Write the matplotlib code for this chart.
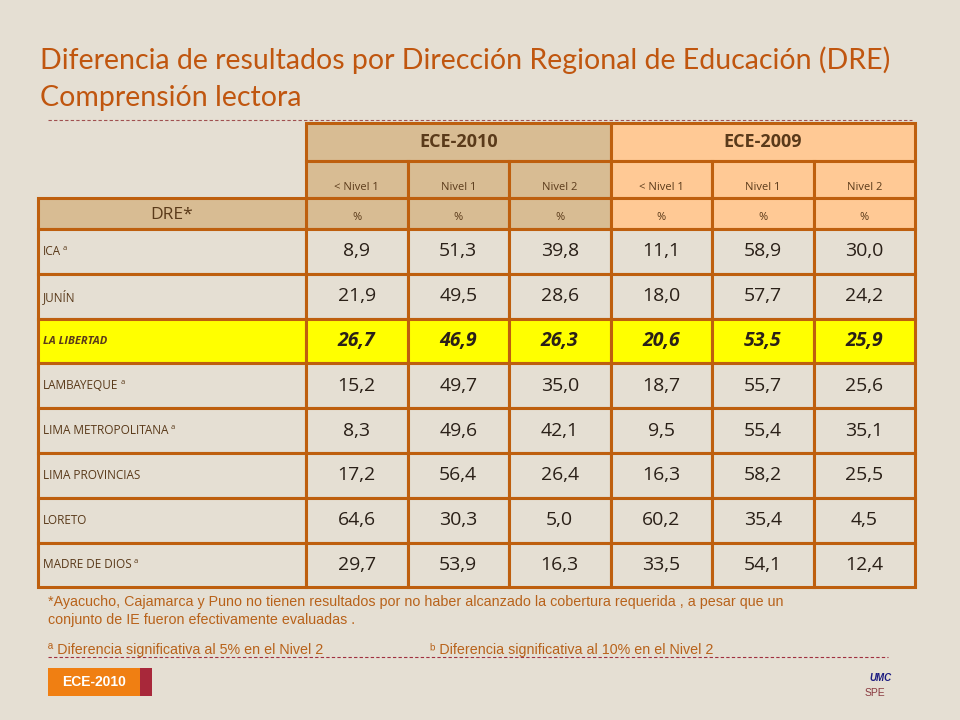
import matplotlib
matplotlib.use("Agg")
import matplotlib.pyplot as plt
from matplotlib.patches import Rectangle

# ── Data ─────────────────────────────────────────────────────────────────────
dre = ["ICA", "JUNÍN", "LA LIBERTAD", "LAMBAYEQUE", "LIMA METROPOLITANA",
       "LIMA PROVINCIAS", "LORETO", "MADRE DE DIOS"]
sup = ["a", "", "", "a", "a", "", "", "a"]
niveles = ["< Nivel 1", "Nivel 1", "Nivel 2"]
ece2010 = [[8.9, 51.3, 39.8], [21.9, 49.5, 28.6], [26.7, 46.9, 26.3],
           [15.2, 49.7, 35.0], [8.3, 49.6, 42.1], [17.2, 56.4, 26.4],
           [64.6, 30.3, 5.0], [29.7, 53.9, 16.3]]
ece2009 = [[11.1, 58.9, 30.0], [18.0, 57.7, 24.2], [20.6, 53.5, 25.9],
           [18.7, 55.7, 25.6], [9.5, 55.4, 35.1], [16.3, 58.2, 25.5],
           [60.2, 35.4, 4.5], [33.5, 54.1, 12.4]]
highlight = "LA LIBERTAD"

BG = "#E5DFD3"
BORDER = "#BE5F0E"
TXT = "#5A3A1A"
H2010 = "#D8BC93"
H2009 = "#FFC995"
FONT = "Open Sans"

fig = plt.figure(figsize=(9.6, 7.2), dpi=100, facecolor=BG)
ax = fig.add_axes([0, 0, 1, 1])
ax.set_xlim(0, 960); ax.set_ylim(720, 0); ax.axis("off")
renderer = fig.canvas.get_renderer()

# title
ax.text(40, 60, "Diferencia de resultados por Dirección Regional de Educación (DRE)",
        fontsize=20.5, color="#C0560F", family="Lato", va="center")
ax.text(40, 98, "Comprensión lectora", fontsize=20.5, color="#C0560F", family="Lato", va="center")
ax.plot([48, 912], [120, 120], ls=(0, (3, 2)), color="#A05050", lw=0.8)

x0, xl = 38, 306
cw = (915 - xl) / 6
row_h = 44.8
y_top = 229

def cell(x, y, w, h, fc):
    ax.add_patch(Rectangle((x, y), w, h, facecolor=fc, edgecolor=BORDER, lw=2.2))

# group headers
for g, (name, fc) in enumerate([("ECE-2010", H2010), ("ECE-2009", H2009)]):
    gx = xl + g * 3 * cw
    cell(gx, 123, 3 * cw, 38, fc)
    ax.text(gx + 1.5 * cw, 142, name, ha="center", va="center", fontsize=13,
            weight="bold", color=TXT, family=FONT)
    for j, lab in enumerate(niveles):
        cx = gx + j * cw
        cell(cx, 161, cw, 37, fc)
        ax.text(cx + cw / 2, 188, lab, ha="center", va="center", fontsize=8, color=TXT, family=FONT)
        cell(cx, 198, cw, 31, fc)
        ax.text(cx + cw / 2, 218, "%", ha="center", va="center", fontsize=8, color=TXT, family=FONT)

cell(x0, 198, xl - x0, 31, H2010)
ax.text((x0 + xl) / 2, 215, "DRE*", ha="center", va="center", fontsize=12.5,
        color=TXT, family=FONT)

for i, name in enumerate(dre):
    y = y_top + i * row_h
    hl = name == highlight
    fc = "#FFFF00" if hl else BG
    style = "italic" if hl else "normal"
    weight = "bold" if hl else "normal"
    cell(x0, y, xl - x0, row_h, fc)
    t = ax.text(x0 + 5, y + row_h / 2, name, ha="left", va="center", fontsize=8.5 if not hl else 8,
                color=TXT, family=FONT, style=style, weight=weight)
    if sup[i]:
        bb = t.get_window_extent(renderer)
        xe = ax.transData.inverted().transform((bb.x1, bb.y1))[0]
        ax.text(xe + 2, y + row_h / 2 - 3, sup[i], fontsize=5.5,
                color=TXT, family=FONT, va="center")
    vals = ece2010[i] + ece2009[i]
    for j, v in enumerate(vals):
        cx = xl + j * cw
        cell(cx, y, cw, row_h, fc)
        ax.text(cx + cw / 2, y + row_h / 2, f"{v:.1f}".replace(".", ","), ha="center",
                va="center", fontsize=14, color="#2A2018", family=FONT,
                style=style, weight=weight)

# footnotes
fn = dict(fontsize=10.3, color="#B8621A", family="Liberation Sans")
ax.text(48, 602, "*Ayacucho, Cajamarca y Puno no tienen resultados por no haber alcanzado la cobertura requerida , a pesar que un",
        va="center", **fn)
ax.text(48, 620, "conjunto de IE fueron efectivamente evaluadas .", va="center", **fn)
ax.text(48, 650, "ª Diferencia significativa al 5% en el Nivel 2", va="center", **fn)
ax.text(430, 650, "ᵇ Diferencia significativa al 10% en el Nivel 2", va="center", **fn)
ax.plot([48, 888], [657, 657], ls=(0, (3, 2)), color="#A03040", lw=0.8)

ax.add_patch(Rectangle((48, 668), 104, 28, facecolor="#A8283A", edgecolor="none"))
ax.add_patch(Rectangle((48, 668), 92, 28, facecolor="#F07F12", edgecolor="none"))
ax.text(94, 682, "ECE-2010", ha="center", va="center", fontsize=10, weight="bold",
        color="white", family="Liberation Sans")
ax.text(880, 678, "UMC", ha="center", va="center", fontsize=7, weight="bold",
        color="#1A1A80", style="italic", family="Liberation Sans")
ax.text(875, 693, "SPE", ha="center", va="center", fontsize=7.5, color="#8A3A40",
        family="Liberation Sans")

fig.savefig("out.png", dpi=100, facecolor=BG)
